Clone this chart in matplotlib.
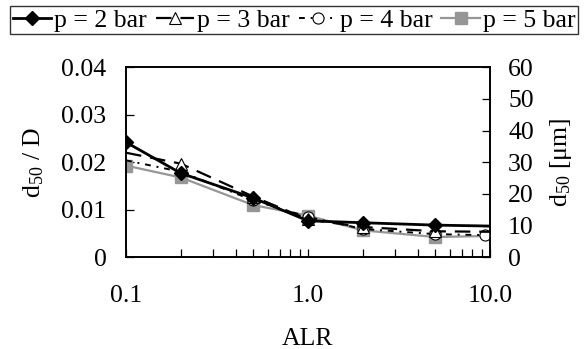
import matplotlib
matplotlib.use("Agg")
import matplotlib.pyplot as plt
from matplotlib.ticker import FixedLocator, NullFormatter, FixedFormatter

plt.rcParams['font.family'] = ['Liberation Serif', 'DejaVu Serif']
plt.rcParams['mathtext.fontset'] = 'custom'
plt.rcParams['mathtext.rm'] = 'Liberation Serif'
plt.rcParams['mathtext.it'] = 'Liberation Serif:italic'

# ---- data ----
alr_p2 = [0.1, 0.2, 0.5, 1.0, 2.0, 5.0, 10.0]
d_p2 = [0.0242, 0.0177, 0.0125, 0.0077, 0.0073, 0.0068, 0.0066]
mark_p2 = [0, 1, 2, 3, 4, 5]

alr_p3 = [0.1, 0.2, 0.5, 1.0, 2.0, 5.0, 10.0]
d_p3 = [0.0220, 0.0197, 0.0128, 0.0080, 0.0064, 0.0055, 0.0054]
mark_p3 = [1, 2, 3, 4, 5]

alr_p4 = [0.1, 0.2, 0.5, 1.0, 2.0, 5.0, 9.35]
d_p4 = [0.0204, 0.0180, 0.0120, 0.0085, 0.0060, 0.0049, 0.0047]
mark_p4 = [2, 3, 4, 5, 6]

alr_p5 = [0.1, 0.2, 0.5, 1.0, 2.0, 5.0, 9.35]
d_p5 = [0.0193, 0.0168, 0.0110, 0.0088, 0.0057, 0.0043, 0.0045]
mark_p5 = [0, 1, 2, 3, 4, 5]

labels = ["p = 2 bar", "p = 3 bar", "p = 4 bar", "p = 5 bar"]
xticks = [0.1, 1.0, 10.0]
xticklabels = ["0.1", "1.0", "10.0"]
yticks = [0, 0.01, 0.02, 0.03, 0.04]
yticklabels = ["0", "0.01", "0.02", "0.03", "0.04"]
y2ticks = [0, 10, 20, 30, 40, 50, 60]

fs = 18.5
fig = plt.figure(figsize=(5.88, 3.49), dpi=100)
ax = fig.add_axes([0.2143, 0.2622, 0.6190, 0.5458])

gray = '#969696'
h5, = ax.plot(alr_p5, d_p5, color=gray, lw=1.6, marker='s', ms=8.5, mfc=gray, mec=gray,
              markevery=mark_p5, zorder=2)
h4, = ax.plot(alr_p4, d_p4, color='black', lw=1.4, ls=(0, (3, 3, 1, 3)), marker='o', ms=8,
              mfc='white', mec='black', mew=0.8, markevery=mark_p4, zorder=3)
h3, = ax.plot(alr_p3, d_p3, color='black', lw=1.6, ls=(0, (7, 4)), marker='^', ms=9,
              mfc='white', mec='black', mew=0.8, markevery=mark_p3, zorder=4)
h2, = ax.plot(alr_p2, d_p2, color='black', lw=2.0, marker='D', ms=7.5, mfc='black',
              mec='black', markevery=mark_p2, zorder=5)

ax.set_xscale('log')
ax.set_xlim(0.1, 10)
ax.set_ylim(0, 0.04)
ax.xaxis.set_major_locator(FixedLocator(xticks))
ax.xaxis.set_major_formatter(FixedFormatter(xticklabels))
ax.xaxis.set_minor_locator(FixedLocator([0.2, 0.3, 0.4, 0.5, 0.6, 0.7, 0.8, 0.9,
                                         2, 3, 4, 5, 6, 7, 8, 9]))
ax.xaxis.set_minor_formatter(NullFormatter())
ax.set_yticks(yticks)
ax.set_yticklabels(yticklabels)
ax.tick_params(axis='both', which='both', direction='in', length=6, width=0.9,
               labelsize=fs, colors='black')
ax.tick_params(axis='x', which='both', pad=20)
ax.tick_params(axis='y', which='both', pad=14)
for s in ax.spines.values():
    s.set_linewidth(1.2)

ax2 = ax.twinx()
ax2.set_ylim(0, 60)
ax2.set_yticks(y2ticks)
ax2.tick_params(axis='y', direction='in', length=6, width=0.9, labelsize=fs, pad=13)
for s in ax2.spines.values():
    s.set_linewidth(1.2)

ax.set_xlabel("ALR", fontsize=fs, labelpad=15)
ax.set_ylabel(r"d$_{50}$ / D", fontsize=fs, labelpad=11)
ax2.set_ylabel(r"d$_{50}$ [μm]", fontsize=fs, labelpad=10)

leg = fig.legend([h2, h3, h4, h5], labels, loc='upper center', bbox_to_anchor=(0.5, 0.99),
                 ncol=4, fontsize=fs, frameon=True, fancybox=False, edgecolor='black',
                 handlelength=1.5, handletextpad=0.1, columnspacing=0.35,
                 borderpad=0.1, borderaxespad=0.1)
leg.get_frame().set_linewidth(1.0)

fig.savefig("out.png", dpi=100)
